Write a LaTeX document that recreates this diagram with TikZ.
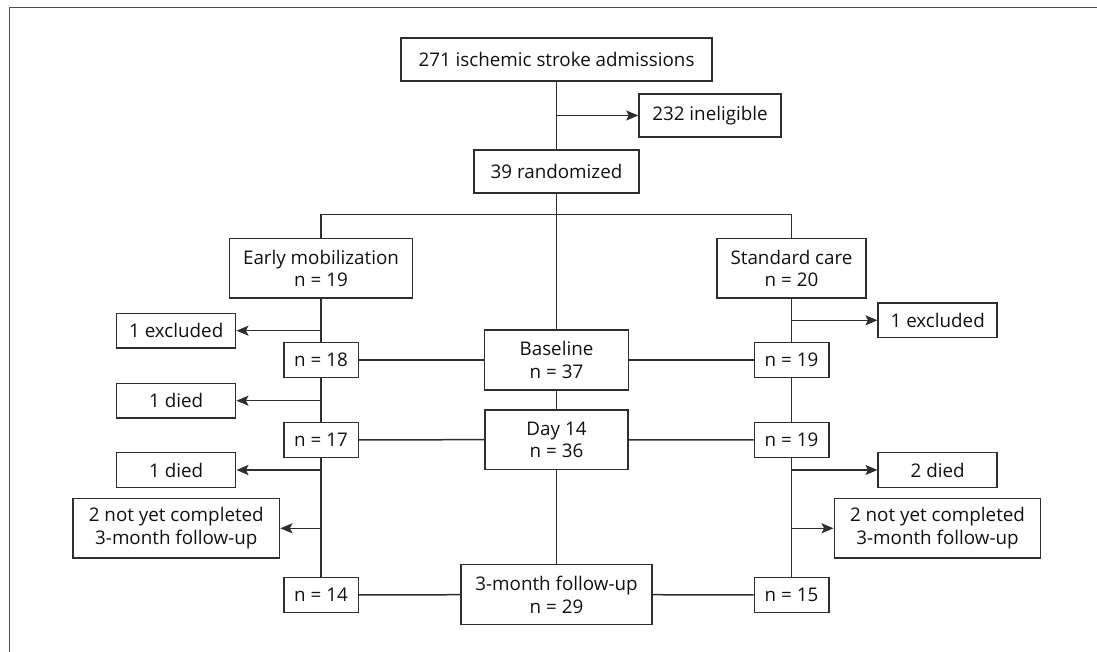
\documentclass[tikz,border=0pt]{standalone}
\usepackage{fontspec}
\setmainfont{Open Sans}
\usepackage{tikz}
\usetikzlibrary{arrows.meta, positioning, calc}
\definecolor{linec}{HTML}{2E2E2E}
\definecolor{textc}{HTML}{111111}
\tikzset{
  box/.style={draw=linec, line width=1.5pt, text=textc, align=center, inner sep=0pt,
    font=\fontsize{18.8}{22.7}\selectfont},
  nbox/.style={box, minimum width=74.5pt, minimum height=35pt},
  sidebox/.style={box, minimum width=119pt, minimum height=34.7pt},
  line/.style={draw=linec, line width=1.5pt},
  arr/.style={line, -{Stealth[length=12pt, width=10pt, inset=2.5pt]}}
}
\begin{document}
\begin{tikzpicture}[x=1pt, y=-1pt]
\useasboundingbox (0,0) rectangle (1097,652);
% frame
\draw[draw=linec!85, line width=1.8pt] (9.5,652) -- (9.5,7.5) -- (1097,7.5);

% enrolment
\node[box, minimum width=311pt, minimum height=43pt] (adm) at (556.5,59.5) {271 ischemic stroke admissions};
\node[box, minimum width=142pt, minimum height=43pt] (inel) at (710,115.5) {232 ineligible};
\node[box, minimum width=165pt, minimum height=43pt] (rand) at (556.5,171.7) {39 randomized};

% groups
\node[box, minimum width=183.4pt, minimum height=59.3pt] (early) at (321,268.4) {Early mobilization\\n = 19};
\node[box, minimum width=148.7pt, minimum height=59.3pt] (std) at (791.5,268.4) {Standard care\\n = 20};

% time points
\node[box, minimum width=144pt, minimum height=60pt] (base) at (556.5,360.2) {Baseline\\n = 37};
\node[box, minimum width=143.3pt, minimum height=59.3pt] (day14) at (556.5,439.7) {Day 14\\n = 36};
\node[box, minimum width=191.3pt, minimum height=60pt] (fu) at (556.5,594.7) {3-month follow-up\\n = 29};

% early mobilization arm
\node[nbox] (n18) at (321,360.2) {n = 18};
\node[nbox] (n17) at (321,439.8) {n = 17};
\node[nbox] (n14) at (321,594.8) {n = 14};
\node[sidebox] (exclL) at (176.2,330.7) {1 excluded};
\node[sidebox] (diedaL) at (176.2,400.7) {1 died};
\node[sidebox] (diedbL) at (176.2,470) {1 died};
\node[box, minimum width=206.7pt, minimum height=59.3pt] (notL) at (176.3,528.3) {2 not yet completed\\3-month follow-up};

% standard care arm
\node[nbox] (n19a) at (791.5,360.2) {n = 19};
\node[nbox] (n19b) at (791.5,440) {n = 19};
\node[nbox] (n15) at (791.5,594.8) {n = 15};
\node[sidebox] (exclR) at (937.7,320.3) {1 excluded};
\node[sidebox] (diedR) at (937.7,470) {2 died};
\node[box, minimum width=206.4pt, minimum height=59.3pt] (notR) at (937.5,528.3) {2 not yet completed\\3-month follow-up};

% connectors
\coordinate (split) at (556.5,214.7);
\draw[line] (adm) -- (rand);
\draw[arr] (adm |- inel) -- (inel);
\draw[line] (rand) -- (base);
\draw[line] (early.north) |- (split) -| (std.north);
\draw[line] (base) -- (day14) -- (fu);
\draw[line] (early) -- (n18) -- (n17) -- (n14);
\draw[line] (std) -- (n19a) -- (n19b) -- (n15);
\draw[line] (n18) -- (base) -- (n19a);
\draw[line] (n17) -- (day14) -- (n19b);
\draw[line] (n14) -- (fu) -- (n15);
\draw[arr] (early |- exclL) -- (exclL);
\draw[arr] (n18 |- diedaL) -- (diedaL);
\draw[arr] (n17 |- diedbL) -- (diedbL);
\draw[arr] (n17 |- notL) -- (notL);
\draw[arr] (std |- exclR) -- (exclR);
\draw[arr] (n19b |- diedR) -- (diedR);
\draw[arr] (n19b |- notR) -- (notR);
\end{tikzpicture}
\end{document}
